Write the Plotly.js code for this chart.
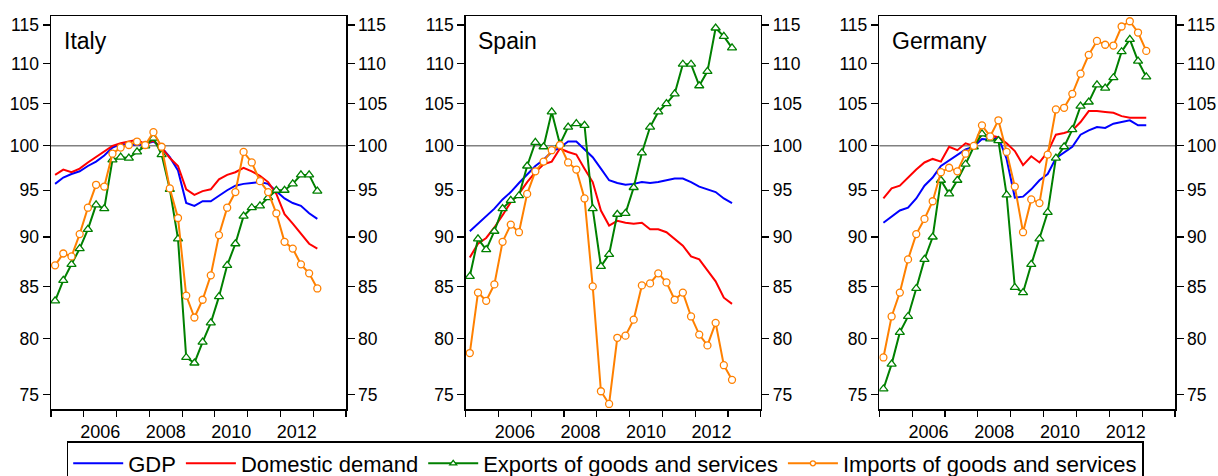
<!DOCTYPE html>
<html>
<head>
<meta charset="utf-8">
<script src="https://cdn.plot.ly/plotly-3.0.1.min.js"></script>
<style>html,body{margin:0;padding:0;background:#fff;}#chart{width:1218px;height:476px;}</style>
</head>
<body>
<div id="chart"></div>
<script>
// Quarterly observations 2005Q1 .. 2013Q1 (index, 2008Q1 ~ 100, log scale)
const startYear = 2005;
const nQuarters = 33;
const countries = ['Italy', 'Spain', 'Germany'];
const seriesNames = ['GDP', 'Domestic demand', 'Exports of goods and services', 'Imports of goods and services'];
const yTicks = [75, 80, 85, 90, 95, 100, 105, 110, 115];
const xTickYears = [2005, 2006, 2007, 2008, 2009, 2010, 2011, 2012, 2013, 2014];
const xLabelYears = [2006, 2008, 2010, 2012];

const italyGDP = [95.7, 96.4, 96.8, 97.1, 97.7, 98.2, 98.9, 99.8, 100.2, 100.2, 100.1, 100.2, 100.5, 99.8, 98.7, 97.2, 93.6, 93.3, 93.8, 93.8, 94.4, 95.0, 95.5, 95.7, 95.8, 95.9, 95.7, 94.9, 94.1, 93.6, 93.3, 92.5, 91.9];
const italyDD = [96.7, 97.3, 97.0, 97.4, 98.1, 98.7, 99.3, 100.0, 100.3, 100.5, 100.7, 100.2, 100.6, 99.8, 98.6, 97.7, 95.1, 94.5, 94.9, 95.1, 96.2, 96.7, 97.0, 97.5, 97.1, 96.6, 95.9, 94.6, 92.4, 91.4, 90.3, 89.3, 88.8];
const italyExp = [83.6, 85.6, 87.2, 88.8, 90.8, 93.4, 93.0, 98.4, 98.7, 98.6, 99.3, 100.0, 100.9, 99.0, 95.1, 89.8, 78.3, 77.8, 79.7, 81.5, 84.0, 87.1, 89.3, 92.2, 93.1, 93.3, 94.2, 95.0, 95.0, 95.7, 96.7, 96.7, 94.9];
const italyImp = [87.1, 88.3, 88.0, 90.3, 93.1, 95.6, 95.4, 99.1, 99.8, 100.1, 100.5, 100.1, 101.6, 99.9, 95.2, 92.0, 84.1, 82.0, 83.7, 86.1, 90.2, 93.1, 94.8, 99.3, 98.1, 96.0, 94.8, 92.5, 89.5, 88.8, 87.2, 86.3, 84.8];

const spainGDP = [90.6, 91.4, 92.2, 93.0, 94.0, 94.8, 95.8, 96.7, 97.7, 98.4, 99.3, 99.8, 100.5, 100.5, 99.6, 98.7, 97.4, 96.1, 95.8, 95.6, 95.7, 95.9, 95.8, 95.9, 96.1, 96.3, 96.3, 95.9, 95.4, 95.1, 94.8, 94.1, 93.6];
const spainDD = [87.9, 89.3, 89.9, 91.0, 92.3, 93.7, 94.6, 95.9, 97.0, 97.9, 98.2, 99.7, 99.3, 99.0, 97.4, 95.9, 92.8, 91.2, 91.7, 91.5, 91.4, 91.5, 90.8, 90.8, 90.5, 89.8, 89.1, 88.0, 87.7, 86.6, 85.5, 83.9, 83.3];
const spainExp = [86.0, 89.8, 88.7, 90.6, 93.0, 93.9, 94.4, 97.7, 100.4, 99.9, 104.0, 100.2, 102.2, 102.6, 102.4, 93.0, 87.0, 88.2, 92.4, 92.5, 95.3, 99.2, 102.2, 104.0, 105.0, 106.2, 109.9, 109.9, 107.2, 109.0, 114.6, 113.5, 112.0];
const spainImp = [78.7, 84.4, 83.6, 85.2, 89.5, 91.3, 90.5, 94.6, 97.1, 98.2, 99.5, 100.1, 98.1, 97.3, 94.1, 85.0, 75.3, 74.2, 80.1, 80.3, 81.8, 85.1, 85.3, 86.3, 85.4, 83.7, 84.4, 82.1, 80.4, 79.4, 81.5, 77.6, 76.3];

const germanyGDP = [91.5, 92.1, 92.8, 93.1, 94.1, 95.5, 96.4, 97.7, 98.3, 98.9, 99.6, 99.9, 100.8, 100.7, 101.0, 98.5, 94.2, 94.3, 95.1, 96.1, 96.8, 98.6, 99.3, 99.9, 101.3, 101.8, 102.2, 102.1, 102.6, 102.8, 103.0, 102.4, 102.4];
const germanyDD = [94.1, 95.2, 95.5, 96.4, 97.3, 98.1, 98.5, 98.2, 99.9, 99.5, 100.3, 100.0, 101.3, 101.2, 101.0, 100.3, 99.4, 97.8, 98.8, 98.1, 99.3, 101.3, 101.5, 101.8, 102.8, 104.1, 104.1, 104.0, 103.9, 103.5, 103.3, 103.3, 103.3];
const germanyExp = [75.5, 77.7, 80.6, 82.1, 84.8, 87.7, 90.0, 96.1, 94.6, 96.1, 97.9, 99.9, 101.4, 100.8, 100.6, 94.5, 84.9, 84.4, 87.2, 89.8, 92.6, 98.6, 99.9, 101.9, 104.7, 105.2, 107.3, 106.9, 108.2, 111.5, 113.1, 110.3, 108.3];
const germanyImp = [78.3, 82.1, 84.4, 87.7, 90.3, 91.9, 93.8, 97.0, 97.5, 97.1, 99.1, 100.0, 102.4, 101.1, 103.0, 99.3, 95.4, 90.5, 94.0, 93.6, 99.0, 104.3, 104.5, 106.2, 108.7, 111.1, 112.9, 112.4, 112.3, 114.8, 115.5, 114.0, 111.6];

const panelData = [
  [italyGDP, italyDD, italyExp, italyImp],
  [spainGDP, spainDD, spainExp, spainImp],
  [germanyGDP, germanyDD, germanyExp, germanyImp]
];

// quarter positions (mid-quarter) on a numeric year axis
const xq = [];
for (let i = 0; i < nQuarters; i++) xq.push(startYear + i / 4 + 0.125);

const colors = ['#0000FF', '#FF0000', '#008000', '#FF8000'];
const FONT = 'Liberation Sans, Arial, Helvetica, sans-serif';

function styleFor(s, legend) {
  const base = {mode: 'lines', line: {color: colors[s], width: 2}};
  if (s === 2) {
    base.mode = 'lines+markers';
    base.marker = {symbol: 'triangle-up', size: legend ? 6 : 8, color: '#ffffff', line: {color: colors[s], width: 1.3}};
  } else if (s === 3) {
    base.mode = 'lines+markers';
    base.marker = {symbol: 'circle', size: legend ? 5 : 7, color: '#ffffff', line: {color: colors[s], width: 1.3}};
  }
  return base;
}

const traces = [];
const xDomains = [[51/1218, 346/1218], [465.7/1218, 760.7/1218], [879.3/1218, 1175/1218]];
const yDomain = [67/476, 460/476];
const yRange = [Math.log10(73.77), Math.log10(116.2)];
const xRange = [xTickYears[0], xTickYears[xTickYears.length - 1]];

const layout = {
  width: 1218, height: 476,
  margin: {l: 0, r: 0, t: 0, b: 0, autoexpand: false},
  paper_bgcolor: '#ffffff', plot_bgcolor: '#ffffff',
  font: {family: FONT, color: '#000000'},
  showlegend: true,
  legend: {
    orientation: 'h', x: 66.7/1218, xanchor: 'left', y: 1 - 441/476, yanchor: 'top',
    bordercolor: '#000000', borderwidth: 1.5, bgcolor: '#ffffff',
    font: {family: FONT, size: 22, color: '#000000'},
    itemwidth: 50, tracegroupgap: 0
  },
  annotations: []
};

for (let p = 0; p < 3; p++) {
  const xa = 'x' + (p + 1), ya = 'y' + (p + 1), yr = 'y' + (p + 4), xl = 'x' + (p + 4);
  // 100 reference line
  traces.push({x: xRange, y: [100, 100], xaxis: xa, yaxis: ya,
    mode: 'lines', line: {color: '#808080', width: 1.5}, hoverinfo: 'skip', showlegend: false});
  for (let s = 0; s < 4; s++) {
    const t = Object.assign({x: xq, y: panelData[p][s], xaxis: xa, yaxis: ya, name: seriesNames[s], showlegend: false}, styleFor(s, false));
    traces.push(t);
  }
  // invisible trace to attach the right-hand axis and the label axis
  traces.push({x: [xq[0]], y: [100], xaxis: xl, yaxis: yr, mode: 'markers', marker: {opacity: 0}, hoverinfo: 'skip', showlegend: false});

  const axLine = {showline: true, linecolor: '#000000', linewidth: 1.5, showgrid: false, zeroline: false,
    ticks: 'outside', tickcolor: '#000000', tickwidth: 1.2};
  layout['xaxis' + (p + 1)] = Object.assign({}, axLine, {
    domain: xDomains[p], anchor: ya, range: xRange,
    tickmode: 'array', tickvals: xTickYears, ticklen: 6, showticklabels: false, mirror: true
  });
  // labels centred in the middle of each labelled year
  layout['xaxis' + (p + 4)] = {
    overlaying: xa, anchor: ya, side: 'bottom', range: xRange,
    showline: false, showgrid: false, zeroline: false,
    tickmode: 'array', tickvals: xLabelYears.map(y => y + 0.5), ticktext: xLabelYears.map(String),
    ticks: 'outside', ticklen: 6, tickcolor: 'rgba(0,0,0,0)',
    tickfont: {family: FONT, size: 18, color: '#000000'}
  };
  layout['yaxis' + (p + 1)] = Object.assign({}, axLine, {
    domain: yDomain, anchor: xa, type: 'log', range: yRange,
    tickmode: 'array', tickvals: yTicks, ticktext: yTicks.map(String), ticklen: 7,
    tickfont: {family: FONT, size: 17.5, color: '#000000'}
  });
  layout['yaxis' + (p + 4)] = Object.assign({}, axLine, {
    overlaying: ya, side: 'right', anchor: xa, type: 'log', range: yRange,
    tickmode: 'array', tickvals: yTicks, ticktext: yTicks.map(String), ticklen: 7,
    tickfont: {family: FONT, size: 17.5, color: '#000000'}
  });
  layout.annotations.push({
    text: countries[p], xref: xa + ' domain', yref: ya + ' domain',
    x: 10.5/295, xanchor: 'left', y: (409 - 41)/393, yanchor: 'middle',
    showarrow: false, font: {family: FONT, size: 23, color: '#000000'}
  });
}

// legend entries
for (let s = 0; s < 4; s++) {
  traces.push(Object.assign({x: [null], y: [null], xaxis: 'x1', yaxis: 'y1', name: seriesNames[s], showlegend: true, hoverinfo: 'skip'}, styleFor(s, true)));
}

Plotly.newPlot('chart', traces, layout, {staticPlot: true, displayModeBar: false});
</script>
</body>
</html>
